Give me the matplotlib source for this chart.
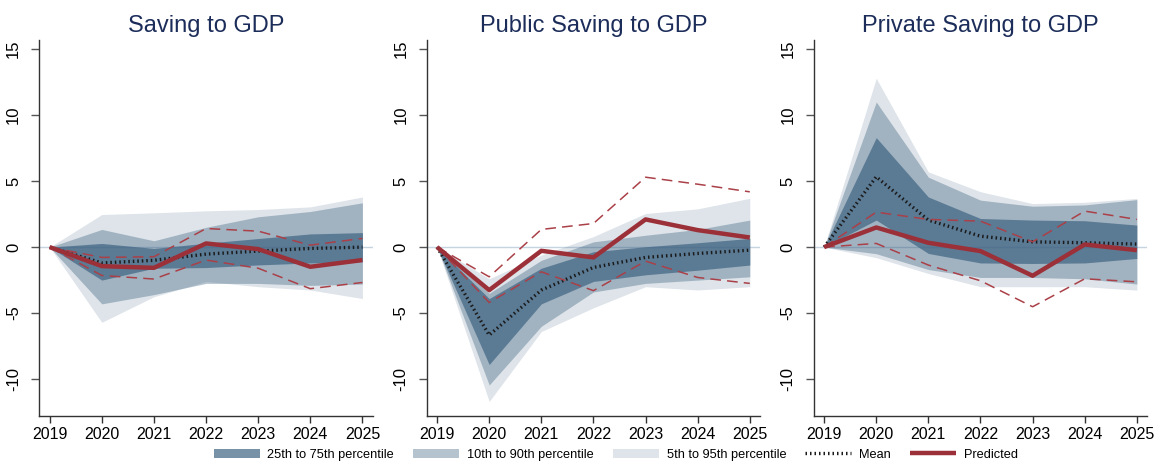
import matplotlib
matplotlib.use('Agg')
import matplotlib.pyplot as plt
import numpy as np

plt.rcParams['font.family'] = ['Liberation Sans', 'DejaVu Sans']

# data (percentage points of GDP)
years = [2019, 2020, 2021, 2022, 2023, 2024, 2025]
titles = ['Saving to GDP', 'Public Saving to GDP', 'Private Saving to GDP']

# Saving to GDP
sav_p5 = [0, -5.7, -3.76, -2.6, -3.0, -3.25, -3.9]
sav_p10 = [0, -4.3, -3.6, -2.75, -2.75, -2.9, -2.8]
sav_p25 = [0, -2.5, -1.6, -1.55, -1.35, -1.2, -1.1]
sav_p75 = [0, 0.28, -0.1, 0.3, 0.65, 1.0, 1.1]
sav_p90 = [0, 1.34, 0.48, 1.5, 2.3, 2.7, 3.36]
sav_p95 = [0, 2.47, 2.6, 2.75, 2.85, 3.05, 3.8]
sav_mean = [0, -1.2, -1.0, -0.53, -0.3, -0.1, 0.0]
sav_pred = [0, -1.44, -1.57, 0.28, -0.15, -1.49, -0.98]
sav_hi = [0, -0.78, -0.73, 1.41, 1.21, 0.15, 0.66]
sav_lo = [0, -2.15, -2.42, -0.98, -1.6, -3.15, -2.68]

# Public saving to GDP
pub_p5 = [0, -11.7, -6.4, -4.6, -3.0, -3.25, -3.0]
pub_p10 = [0, -10.45, -6.0, -3.4, -2.75, -2.5, -2.25]
pub_p25 = [0, -8.9, -4.3, -2.6, -2.1, -1.75, -1.36]
pub_p75 = [0, -3.9, -1.6, -0.35, 0.03, 0.33, 0.66]
pub_p90 = [0, -3.5, -1.0, 0.4, 0.9, 1.34, 2.05]
pub_p95 = [0, -2.4, -0.6, 0.8, 2.55, 2.9, 3.7]
pub_mean = [0, -6.67, -3.26, -1.54, -0.78, -0.48, -0.23]
pub_pred = [0, -3.26, -0.28, -0.78, 2.1, 1.29, 0.73]
pub_hi = [0, -2.25, 1.34, 1.79, 5.3, 4.77, 4.19]
pub_lo = [0, -4.2, -1.87, -3.3, -1.06, -2.3, -2.75]

# Private saving to GDP
prv_p5 = [0, -0.8, -2.0, -3.0, -3.0, -3.0, -3.26]
prv_p10 = [0, -0.5, -1.7, -2.3, -2.3, -2.4, -2.8]
prv_p25 = [0, 2.05, -0.48, -1.2, -1.24, -1.2, -0.86]
prv_p75 = [0, 8.3, 3.8, 2.17, 2.05, 2.0, 1.67]
prv_p90 = [0, 11.0, 5.3, 3.56, 3.1, 3.2, 3.6]
prv_p95 = [0, 12.8, 5.7, 4.2, 3.3, 3.4, 3.69]
prv_mean = [0, 5.33, 2.05, 0.83, 0.4, 0.33, 0.23]
prv_pred = [0, 1.49, 0.33, -0.3, -2.17, 0.2, -0.23]
prv_hi = [0, 2.65, 2.1, 1.97, 0.4, 2.73, 2.1]
prv_lo = [0, 0.28, -1.36, -2.55, -4.52, -2.4, -2.63]

panels = [
    (sav_p5, sav_p10, sav_p25, sav_p75, sav_p90, sav_p95, sav_mean, sav_pred, sav_hi, sav_lo),
    (pub_p5, pub_p10, pub_p25, pub_p75, pub_p90, pub_p95, pub_mean, pub_pred, pub_hi, pub_lo),
    (prv_p5, prv_p10, prv_p25, prv_p75, prv_p90, prv_p95, prv_mean, prv_pred, prv_hi, prv_lo),
]

band_col = '#3e6382'
red = '#9c3039'
dash_red = '#aa4048'

fig = plt.figure(figsize=(11.55, 4.65), dpi=100)
lefts = [0.0340, 0.3694, 0.7045]
axes = []
for left, title, d in zip(lefts, titles, panels):
    p5, p10, p25, p75, p90, p95, mean, pred, hi, lo = d
    ax = fig.add_axes([left, 0.1054, 0.2888, 0.8086])
    axes.append(ax)

    ax.axhline(0, color='#c6d4e0', lw=1, zorder=0.5)
    ax.fill_between(years, p25, p75, color=band_col, alpha=0.70, lw=0,
                    label='25th to 75th percentile', zorder=1.3)
    ax.fill_between(years, p10, p90, color=band_col, alpha=0.38, lw=0,
                    label='10th to 90th percentile', zorder=1.2)
    ax.fill_between(years, p5, p95, color=band_col, alpha=0.17, lw=0,
                    label='5th to 95th percentile', zorder=1.1)
    ax.plot(years, mean, color='#1a1a1a', lw=2.4, ls=(0, (0.45, 0.9)),
            label='Mean', zorder=3)
    ax.plot(years, hi, color=dash_red, lw=1.1, ls=(0, (7, 4)), zorder=3)
    ax.plot(years, lo, color=dash_red, lw=1.1, ls=(0, (7, 4)), zorder=3)
    ax.plot(years, pred, color=red, lw=3.2, label='Predicted', zorder=4,
            solid_capstyle='butt')

    ax.set_xlim(2018.8, 2025.2)
    ax.set_ylim(-12.8, 15.7)
    ax.set_xticks(years)
    ax.set_xticklabels([str(y) for y in years], fontsize=11.5)
    ax.set_yticks([-10, -5, 0, 5, 10, 15])
    ax.set_yticklabels(['-10', '-5', '0', '5', '10', '15'], fontsize=12,
                       rotation=90, va='center')
    ax.tick_params(axis='x', length=5, width=1, pad=3, color='#333333')
    ax.tick_params(axis='y', length=6, width=1, pad=7, color='#555555')
    for s in ['top', 'right']:
        ax.spines[s].set_visible(False)
    for s in ['left', 'bottom']:
        ax.spines[s].set_color('#333333')
        ax.spines[s].set_linewidth(1)
    ax.set_title(title, fontsize=17, color='#1c2d5a', pad=6)

handles, labels = axes[0].get_legend_handles_labels()
order = ['25th to 75th percentile', '10th to 90th percentile',
         '5th to 95th percentile', 'Mean', 'Predicted']
hmap = dict(zip(labels, handles))
fig.legend([hmap[k] for k in order], order, loc='center left',
           bbox_to_anchor=(0.185, 0.022), ncol=5, frameon=False,
           fontsize=9.2, handlelength=3.6, handletextpad=0.6,
           columnspacing=1.5, borderpad=0, borderaxespad=0)

fig.savefig('out.png', dpi=100)
